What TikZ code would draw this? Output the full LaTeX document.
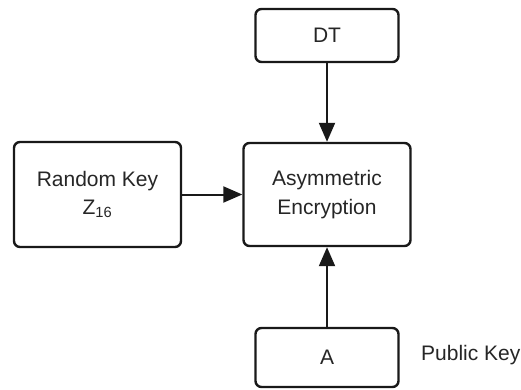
\documentclass[tikz,border=0pt]{standalone}
\usepackage{fontspec}
\setmainfont{Liberation Sans}
\usetikzlibrary{arrows.meta}
\begin{document}
\begin{tikzpicture}[x=1pt,y=-1pt,
  box/.style={draw=black!90, line width=2.4pt, rounded corners=6pt, fill=white,
    align=center, inner sep=0pt, text=black!85,
    font=\fontsize{21}{28.5}\selectfont},
  link/.style={draw=black!90, line width=2pt,
    -{Triangle[length=19pt,width=16pt]}},
  lbl/.style={text=black!85, inner sep=0pt, font=\fontsize{21}{28}\selectfont}]
  \useasboundingbox (0,0) rectangle (521,390);
  % processing block and its inputs
  \node[box, minimum width=167pt, minimum height=103pt] (enc) at (327,194.5)
    {Asymmetric\\Encryption};
  \node[box, minimum width=167pt, minimum height=105pt] (rk) at (97.5,194.5)
    {Random Key\\Z\textsubscript{16}};
  \node[box, minimum width=143pt, minimum height=53pt] (dt) at (327,35.5) {DT};
  \node[box, minimum width=143pt, minimum height=59pt] (a) at (327,357.5) {A};
  \node[lbl, anchor=west] (pk) at (421,355) {Public Key};
  % connectors
  \draw[link] (dt.south) -- (enc.north);
  \draw[link] (rk.east) -- (enc.west);
  \draw[link] (a.north) -- (enc.south);
\end{tikzpicture}
\end{document}
